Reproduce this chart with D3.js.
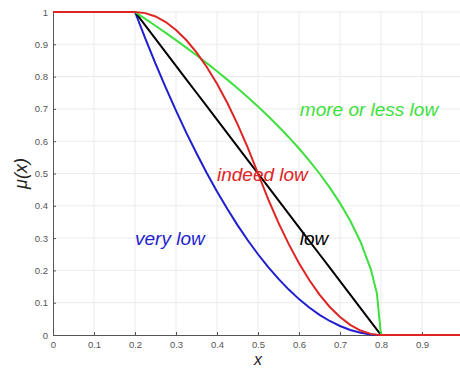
<!DOCTYPE html>
<html>
<head>
<meta charset="utf-8">
<script src="https://cdn.jsdelivr.net/npm/d3@7"></script>
<style>
  body { margin: 0; background: #fff; }
  svg { display: block; font-family: "Liberation Sans", Arial, sans-serif; }
</style>
</head>
<body>
<div id="chart"></div>
<script>
// x samples shared by all curves
const xs = [0, 0.2, 0.225, 0.25, 0.275, 0.3, 0.325, 0.35, 0.375, 0.4, 0.425, 0.45, 0.475, 0.5,
            0.525, 0.55, 0.575, 0.6, 0.625, 0.65, 0.675, 0.7, 0.725, 0.75, 0.775, 0.79, 0.8, 1];

const low = [1, 1, 0.9583, 0.9167, 0.875, 0.8333, 0.7917, 0.75, 0.7083, 0.6667, 0.625, 0.5833, 0.5417, 0.5,
             0.4583, 0.4167, 0.375, 0.3333, 0.2917, 0.25, 0.2083, 0.1667, 0.125, 0.0833, 0.0417, 0.0167, 0, 0];
const veryLow = [1, 1, 0.9184, 0.8403, 0.7656, 0.6944, 0.6267, 0.5625, 0.5017, 0.4444, 0.3906, 0.3403, 0.2934, 0.25,
                 0.2101, 0.1736, 0.1406, 0.1111, 0.0851, 0.0625, 0.0434, 0.0278, 0.0156, 0.0069, 0.0017, 0.0003, 0, 0];
const moreOrLessLow = [1, 1, 0.9789, 0.9574, 0.9354, 0.9129, 0.8898, 0.866, 0.8416, 0.8165, 0.7906, 0.7638, 0.736, 0.7071,
                       0.677, 0.6455, 0.6124, 0.5774, 0.5401, 0.5, 0.4564, 0.4082, 0.3536, 0.2887, 0.2041, 0.1291, 0, 0];
const indeedLow = [1, 1, 0.9965, 0.9861, 0.9688, 0.9444, 0.9132, 0.875, 0.8299, 0.7778, 0.7188, 0.6528, 0.5799, 0.5,
                   0.4201, 0.3472, 0.2813, 0.2222, 0.1701, 0.125, 0.0868, 0.0556, 0.0313, 0.0139, 0.0035, 0.0006, 0, 0];

const xTicks = [0, 0.1, 0.2, 0.3, 0.4, 0.5, 0.6, 0.7, 0.8, 0.9, 1];
const yTicks = [0, 0.1, 0.2, 0.3, 0.4, 0.5, 0.6, 0.7, 0.8, 0.9, 1];

// drawing order: red last so it sits on the flat parts
const series = [
  { name: 'very low', values: veryLow, color: '#1f1fcf', lx: 0.2, ly: 0.28 },
  { name: 'low', values: low, color: '#000000', lx: 0.602, ly: 0.28 },
  { name: 'more or less low', values: moreOrLessLow, color: '#3ee03e', lx: 0.602, ly: 0.678 },
  { name: 'indeed low', values: indeedLow, color: '#e02424', lx: 0.4, ly: 0.477 }
];

const W = 460, H = 370;
const margin = { top: 12, left: 53, bottom: 35 };
const x = d3.scaleLinear().domain([0, 1]).range([margin.left, 463]);
const y = d3.scaleLinear().domain([0, 1]).range([H - margin.bottom, margin.top]);

const svg = d3.select('#chart').append('svg')
  .attr('width', W)
  .attr('height', H);

// grid
svg.append('g')
  .selectAll('line.gx')
  .data(xTicks.slice(1))
  .enter().append('line')
  .attr('x1', d => x(d)).attr('x2', d => x(d))
  .attr('y1', y(0)).attr('y2', y(1))
  .attr('stroke', '#ebebeb').attr('stroke-width', 1);

svg.append('g')
  .selectAll('line.gy')
  .data(yTicks.slice(1))
  .enter().append('line')
  .attr('x1', x(0)).attr('x2', x(1))
  .attr('y1', d => y(d)).attr('y2', d => y(d))
  .attr('stroke', '#ebebeb').attr('stroke-width', 1);

// axes
const xAxis = svg.append('g')
  .attr('transform', `translate(0,${y(0)})`)
  .call(d3.axisBottom(x).tickValues(xTicks.slice(0, 10)).tickFormat(d3.format('')).tickSize(-3).tickPadding(6));
const yAxis = svg.append('g')
  .attr('transform', `translate(${x(0)},0)`)
  .call(d3.axisLeft(y).tickValues(yTicks).tickFormat(d3.format('')).tickSize(-3).tickPadding(5));

[xAxis, yAxis].forEach(a => {
  a.select('.domain').attr('stroke', '#555');
  a.selectAll('.tick line').attr('stroke', '#555');
  a.selectAll('.tick text').attr('fill', '#555').style('font-size', '9.5px');
});

// curves
const line = d3.line()
  .x((d, i) => x(xs[i]))
  .y(d => y(d));

svg.selectAll('.curve')
  .data(series)
  .enter().append('path')
  .attr('d', d => line(d.values))
  .attr('fill', 'none')
  .attr('stroke', d => d.color)
  .attr('stroke-width', 2);

// labels
svg.selectAll('.lbl')
  .data(series)
  .enter().append('text')
  .attr('x', d => x(d.lx))
  .attr('y', d => y(d.ly))
  .attr('fill', d => d.color)
  .style('font-size', '19px')
  .style('font-style', 'italic')
  .text(d => d.name);

// axis titles
svg.append('text')
  .attr('x', 258).attr('y', 365)
  .attr('text-anchor', 'middle')
  .style('font-size', '16px')
  .style('font-style', 'italic')
  .attr('fill', '#222')
  .text('x');

svg.append('text')
  .attr('transform', `translate(27,${y(0.5)}) rotate(-90)`)
  .attr('text-anchor', 'middle')
  .style('font-size', '18px')
  .style('font-style', 'italic')
  .attr('fill', '#222')
  .text('μ(x)');
</script>
</body>
</html>
